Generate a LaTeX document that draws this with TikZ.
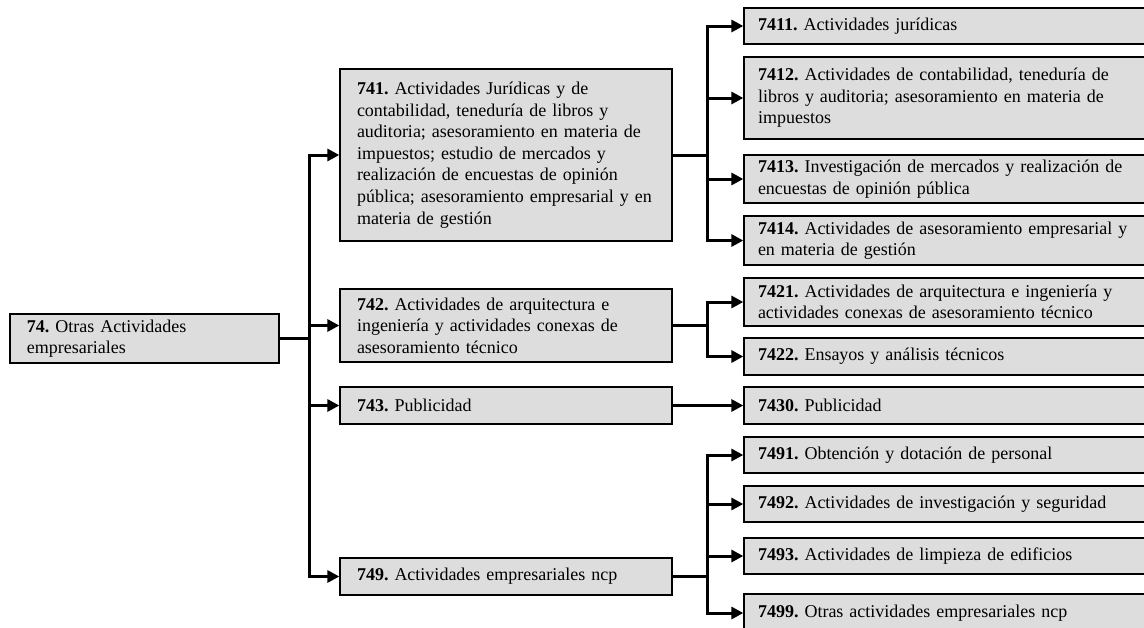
\documentclass[tikz,border=0pt]{standalone}
\usepackage{fontspec}
\setmainfont{Liberation Serif}
\usepackage{xcolor}
\usetikzlibrary{arrows.meta,positioning}
\definecolor{boxgray}{RGB}{221,221,221}
\frenchspacing
\tikzset{
  caja/.style={draw,fill=boxgray,line width=1.3pt,align=left,inner ysep=0pt,
    font=\fontsize{18}{21.6}\selectfont},
  cajaA/.style={caja,inner xsep=17pt,text width=235pt},
  cajaB/.style={caja,inner xsep=17pt,text width=298pt},
  cajaC/.style={caja,inner xsep=14pt,text width=388pt},
  flecha/.style={line width=3pt,-{Triangle[length=12pt,width=12pt]}},
  linea/.style={line width=3pt}
}

\begin{document}
\begin{tikzpicture}[x=1pt,y=-1pt]
  \clip (0,0) rectangle (1144,627);

  \node[cajaA,minimum height=49pt] (n74) at (144.5,338.5) {\textbf{74.} Otras Actividades\\empresariales};

  \node[cajaB,minimum height=172pt] (n741) at (506,155) {\textbf{741.} Actividades Jurídicas y de\\contabilidad, teneduría de libros y\\auditoria; asesoramiento en materia de\\impuestos; estudio de mercados y\\realización de encuestas de opinión\\pública; asesoramiento empresarial y en\\materia de gestión};
  \node[cajaB,minimum height=73pt] (n742) at (506,325.5) {\textbf{742.} Actividades de arquitectura e\\ingeniería y actividades conexas de\\asesoramiento técnico};
  \node[cajaB,minimum height=37pt] (n743) at (506,405.5) {\textbf{743.} Publicidad};
  \node[cajaB,minimum height=37pt] (n749) at (506,576.5) {\textbf{749.} Actividades empresariales ncp};

  \node[cajaC,minimum height=36pt] (n7411) at (952,26) {\textbf{7411.} Actividades jurídicas};
  \node[cajaC,minimum height=82pt] (n7412) at (952,98) {\textbf{7412.} Actividades de contabilidad, teneduría de\\libros y auditoria; asesoramiento en materia de\\impuestos};
  \node[cajaC,minimum height=48pt] (n7413) at (952,179) {\textbf{7413.} Investigación de mercados y realización de\\encuestas de opinión pública};
  \node[cajaC,minimum height=49pt] (n7414) at (952,240.5) {\textbf{7414.} Actividades de asesoramiento empresarial y\\en materia de gestión};
  \node[cajaC,minimum height=48pt] (n7421) at (952,302) {\textbf{7421.} Actividades de arquitectura e ingeniería y\\actividades conexas de asesoramiento técnico};
  \node[cajaC,minimum height=37pt] (n7422) at (952,356.5) {\textbf{7422.} Ensayos y análisis técnicos};
  \node[cajaC,minimum height=37pt] (n7430) at (952,405.5) {\textbf{7430.} Publicidad};
  \node[cajaC,minimum height=36pt] (n7491) at (952,455) {\textbf{7491.} Obtención y dotación de personal};
  \node[cajaC,minimum height=36pt] (n7492) at (952,504) {\textbf{7492.} Actividades de investigación y seguridad};
  \node[cajaC,minimum height=36pt] (n7493) at (952,556) {\textbf{7493.} Actividades de limpieza de edificios};
  \node[cajaC,minimum height=38pt] (n7499) at (952,613) {\textbf{7499.} Otras actividades empresariales ncp};

  \draw[flecha] (n74.east) -- ++(30,0) |- (n741.west);
  \draw[flecha] (n74.east) -- ++(30,0) |- (n742.west);
  \draw[flecha] (n74.east) -- ++(30,0) |- (n743.west);
  \draw[flecha] (n74.east) -- ++(30,0) |- (n749.west);

  \draw[flecha] (n741.east) -- ++(35,0) |- (n7411.west);
  \draw[flecha] (n741.east) -- ++(35,0) |- (n7412.west);
  \draw[flecha] (n741.east) -- ++(35,0) |- (n7413.west);
  \draw[flecha] (n741.east) -- ++(35,0) |- (n7414.west);

  \draw[flecha] (n742.east) -- ++(35,0) |- (n7421.west);
  \draw[flecha] (n742.east) -- ++(35,0) |- (n7422.west);

  \draw[flecha] (n743.east) -- (n7430.west);

  \draw[flecha] (n749.east) -- ++(35,0) |- (n7491.west);
  \draw[flecha] (n749.east) -- ++(35,0) |- (n7492.west);
  \draw[flecha] (n749.east) -- ++(35,0) |- (n7493.west);
  \draw[flecha] (n749.east) -- ++(35,0) |- (n7499.west);
\end{tikzpicture}
\end{document}
